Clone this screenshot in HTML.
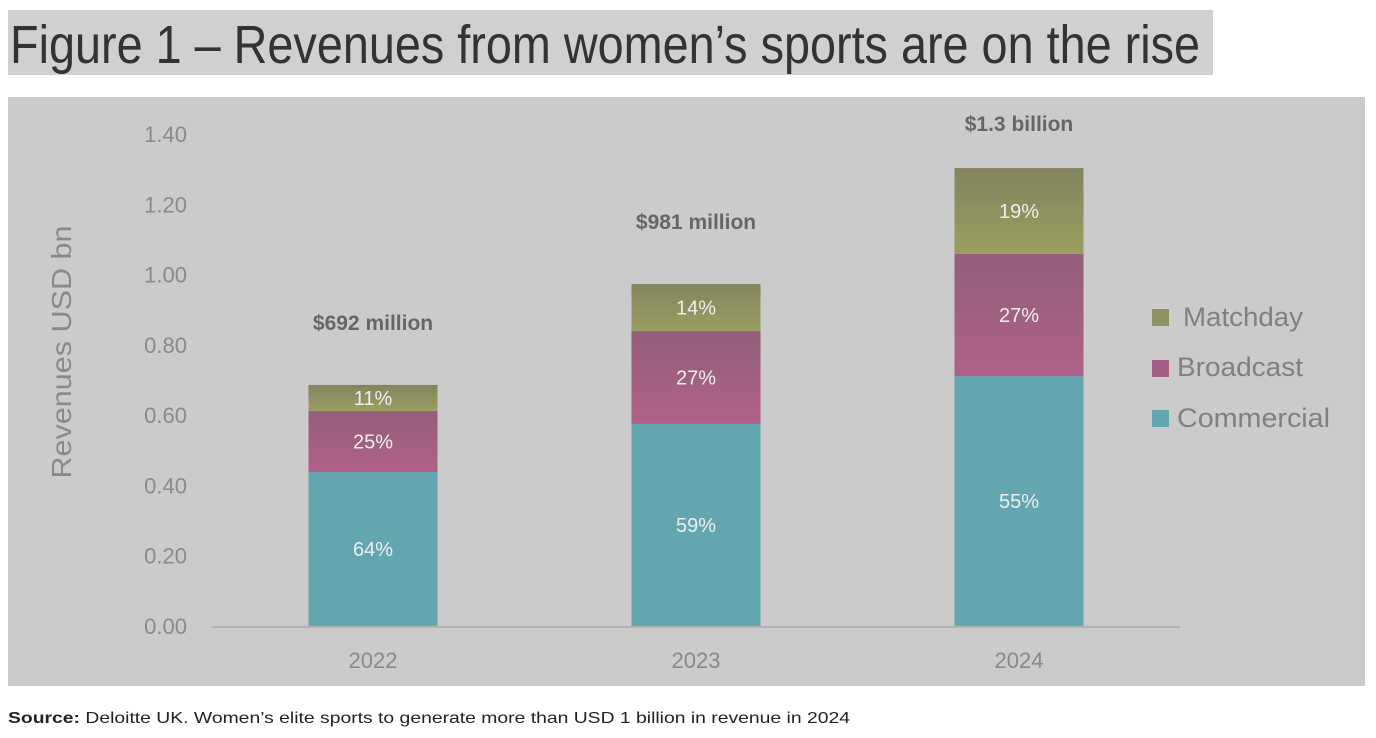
<!DOCTYPE html>
<html><head><meta charset="utf-8"><style>
body{margin:0;background:#fff;width:1376px;height:738px;overflow:hidden}
svg{display:block;font-family:"Liberation Sans",sans-serif}
</style></head><body>
<svg id="c" width="1376" height="738">
<defs>
<linearGradient id="gb" x1="0" y1="0" x2="0" y2="1"><stop offset="0" stop-color="#935f7b"/><stop offset="1" stop-color="#b06088"/></linearGradient>
<linearGradient id="gm" x1="0" y1="0" x2="0" y2="1"><stop offset="0" stop-color="#83845e"/><stop offset="1" stop-color="#9b9e60"/></linearGradient>
</defs>
<rect x="8" y="10" width="1205" height="65" fill="#d0d0d0"/>
<text x="10" y="63" font-size="54" fill="#333" textLength="1190" lengthAdjust="spacingAndGlyphs">Figure 1 – Revenues from women’s sports are on the rise</text>
<rect x="8" y="97" width="1357" height="589" fill="#cbcbcb"/>
<line x1="212" y1="627" x2="1180" y2="627" stroke="#aaa" stroke-width="1.5"/>
<text transform="translate(71,352) rotate(-90)" text-anchor="middle" font-size="28" fill="#8a8a8a" textLength="253" lengthAdjust="spacingAndGlyphs">Revenues  USD bn</text>
<g id="bars"></g>
<g>
<rect x="1152" y="309" width="17" height="17" fill="#8e9160"/>
<text x="1183" y="326" font-size="27" fill="#808080" textLength="120" lengthAdjust="spacingAndGlyphs">Matchday</text>
<rect x="1152" y="360" width="17" height="17" fill="#a65f86"/>
<text x="1177" y="376" font-size="27" fill="#808080" textLength="126" lengthAdjust="spacingAndGlyphs">Broadcast</text>
<rect x="1152" y="410" width="17" height="17" fill="#63a6b0"/>
<text x="1177" y="427" font-size="27" fill="#808080" textLength="153" lengthAdjust="spacingAndGlyphs">Commercial</text>
</g>
<text x="8" y="723" font-size="16" fill="#222" textLength="842" lengthAdjust="spacingAndGlyphs"><tspan font-weight="bold">Source:</tspan> Deloitte UK. Women’s elite sports to generate more than USD 1 billion in revenue in 2024</text>
</svg>
<script>
const categories = ["2022","2023","2024"];
const commercial = [0.438, 0.575, 0.711];
const broadcast = [0.174, 0.265, 0.348];
const matchday = [0.074, 0.133, 0.244];
const pctCommercial = ["64%","59%","55%"];
const pctBroadcast = ["25%","27%","27%"];
const pctMatchday = ["11%","14%","19%"];
const totalLabels = ["$692 million","$981 million","$1.3 billion"];
const yTicks = [0,0.2,0.4,0.6,0.8,1.0,1.2,1.4];

const svg = document.getElementById('c'), g = document.getElementById('bars');
const NS = 'http://www.w3.org/2000/svg';
const y = v => 626 - v / 1.4 * 492;
const xc = i => 373 + i * 323;
const bw = 129;
function mk(tag, attrs, parent){const e=document.createElementNS(NS,tag);for(const k in attrs)e.setAttribute(k,attrs[k]);(parent||g).appendChild(e);return e;}
yTicks.forEach(t=>{
  const e=mk('text',{x:187,y:y(t)+8,'text-anchor':'end','font-size':22,fill:'#8a8a8a'});
  e.textContent=t.toFixed(2);
  
  
});
categories.forEach((c,i)=>{
  const x0 = xc(i)-bw/2;
  const segs=[[0,commercial[i],'#63a6b0',pctCommercial[i],'commercial'],
    [commercial[i],broadcast[i],'url(#gb)',pctBroadcast[i],'broadcast'],
    [commercial[i]+broadcast[i],matchday[i],'url(#gm)',pctMatchday[i],'matchday']];
  segs.forEach(s=>{
    const r=mk('rect',{x:x0,y:y(s[0]+s[1]),width:bw,height:y(s[0])-y(s[0]+s[1]),fill:s[2]});
    
    
    const t=mk('text',{x:xc(i),y:(y(s[0])+y(s[0]+s[1]))/2+7,'text-anchor':'middle','font-size':20,fill:'#eeeeee'});
    t.textContent=s[3];
    
    
  });
  const tot=commercial[i]+broadcast[i]+matchday[i];
  const tl=mk('text',{x:xc(i),y:Math.max(y(tot)-55,131),'text-anchor':'middle','font-size':21,'font-weight':'bold',fill:'#666'});
  tl.textContent=totalLabels[i];
  
  
  const xl=mk('text',{x:xc(i),y:668,'text-anchor':'middle','font-size':22,fill:'#8a8a8a'});
  xl.textContent=c;
  
  
});
</script>
</body></html>
